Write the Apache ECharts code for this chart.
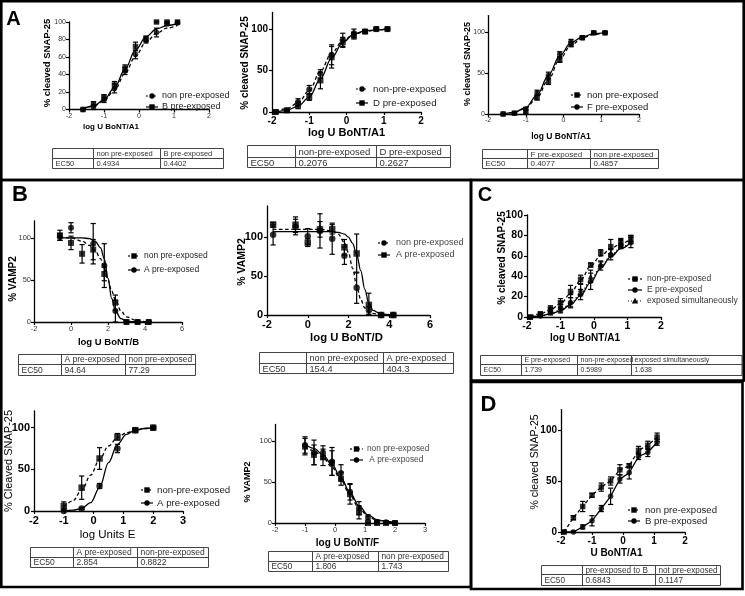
<!DOCTYPE html>
<html><head><meta charset="utf-8">
<script src="https://cdn.jsdelivr.net/npm/echarts@6/dist/echarts.min.js"></script>
<style>html,body{margin:0;padding:0;background:#fff}#c{width:745px;height:596px}</style>
</head><body><div id="c"></div>
<script>
// ================= DATA =================
const xTicksA = [-2, -1, 0, 1, 2];
const xTicksB = [-2, 0, 2, 4, 6];
const xTicksE = [-2, -1, 0, 1, 2, 3];
const yTicks20 = [0, 20, 40, 60, 80, 100];
const yTicks50 = [0, 50, 100];

// Panel A1
const a1X = [-1.6, -1.3, -1.0, -0.7, -0.4, -0.1, 0.2, 0.5, 0.8, 1.1];
const a1Non = [0, 3, 11, 24, 44, 63, 79, 88, 98, 99];
const a1NonErr = [1, 3, 3, 5, 4, 5, 3, 5, 2, 1];
const a1B = [0, 6, 14, 28, 47, 72, 81, 100, 100, 100];
const a1BErr = [1, 3, 3, 4, 4, 5, 3, 1, 1, 1];
const a1CurveX = [-1.6, -1.3, -1.0, -0.7, -0.4, -0.1, 0.2, 0.5, 0.8, 1.1];
const a1NonCurve = [1, 4, 10, 22, 41, 61, 77, 87, 93, 96];
const a1BCurve = [1, 4, 11, 25, 46, 68, 83, 92, 96, 98];
const a1Legend = ["non pre-exposed", "B pre-exposed"];
const a1Table = [["", "non pre-exposed", "B pre-exposed"], ["EC50", "0.4934", "0.4402"]];

// Panel A2
const a2X = [-1.9, -1.6, -1.3, -1.0, -0.7, -0.4, -0.1, 0.2, 0.5, 0.8, 1.1];
const a2Non = [0, 2, 12, 27, 46, 69, 87, 95, 97, 100, 100];
const a2NonErr = [0, 1, 4, 5, 5, 12, 8, 5, 2, 1, 1];
const a2D = [0, 2, 8, 18, 38, 66, 84, 92, 97, 100, 100];
const a2DErr = [0, 1, 4, 4, 10, 13, 6, 4, 2, 1, 1];
const a2CurveX = [-1.9, -1.6, -1.3, -1.0, -0.7, -0.4, -0.1, 0.2, 0.5, 0.8, 1.1];
const a2NonCurve = [1, 4, 11, 26, 49, 71, 86, 94, 97, 99, 100];
const a2DCurve = [0, 2, 7, 18, 40, 65, 84, 94, 98, 99, 100];
const a2Legend = ["non-pre-exposed", "D pre-exposed"];
const a2Table = [["", "non-pre-exposed", "D pre-exposed"], ["EC50", "0.2076", "0.2627"]];

// Panel A3
const a3X = [-1.6, -1.3, -1.0, -0.7, -0.4, -0.1, 0.2, 0.5, 0.8, 1.1];
const a3Non = [0, 1, 3, 20, 40, 66, 85, 93, 99, 99];
const a3NonErr = [0, 1, 2, 3, 4, 3, 3, 2, 1, 1];
const a3F = [0, 1, 6, 26, 47, 73, 88, 93, 99, 99];
const a3FErr = [0, 1, 2, 3, 4, 3, 3, 2, 1, 1];
const a3CurveX = [-1.6, -1.3, -1.0, -0.7, -0.4, -0.1, 0.2, 0.5, 0.8, 1.1];
const a3NonCurve = [0, 2, 7, 20, 42, 67, 84, 93, 97, 99];
const a3FCurve = [0, 2, 8, 23, 47, 71, 87, 94, 98, 99];
const a3Legend = ["non pre-exposed", "F pre-exposed"];
const a3Table = [["", "F pre-exposed", "non pre-exposed"], ["EC50", "0.4077", "0.4857"]];

// Panel B1 (BoNT/B)
const b1X = [-0.6, 0, 0.6, 1.2, 1.8, 2.4, 3.0, 3.6, 4.2];
const b1Non = [103, 94, 81, 86, 57, 23, 0, 0, 0];
const b1NonErr = [6, 8, 11, 12, 8, 9, 1, 1, 1];
const b1A = [101, 112, null, 93, 67, 13, 0, 0, 0];
const b1AErr = [4, 6, null, 24, 26, 13, 1, 1, 1];
const b1CurveX = [-0.6, 0, 0.6, 1.0, 1.3, 1.6, 1.8, 2.0, 2.2, 2.4, 2.7, 3.0, 3.6, 4.2];
const b1NonCurve = [101, 100, 96, 91, 85, 75, 64, 50, 37, 26, 13, 6, 1, 0];
const b1ACurve = [100, 100, 100, 99, 96, 88, 75, 52, 28, 13, 4, 1, 0, 0];
const b1Legend = ["non pre-exposed", "A pre-exposed"];
const b1Table = [["", "A pre-exposed", "non pre-exposed"], ["EC50", "94.64", "77.29"]];

// Panel B2 (BoNT/D)
const b2X = [-1.7, -0.6, 0, 0.6, 1.2, 1.8, 2.4, 3.0, 3.6, 4.2];
const b2Non = [103, 113, 101, 108, 98, 76, 35, 6, 0, 0];
const b2NonErr = [13, 10, 10, 22, 20, 11, 20, 5, 1, 1];
const b2A = [116, 116, 93, 110, 110, 87, 79, 13, 0, 0];
const b2AErr = [3, 10, 5, 10, 6, 10, 25, 15, 1, 1];
const b2CurveX = [-1.7, -0.6, 0, 0.6, 1.2, 1.5, 1.8, 2.0, 2.2, 2.4, 2.6, 2.8, 3.0, 3.2, 3.6, 4.2];
const b2NonCurve = [110, 110, 110, 110, 108, 104, 93, 80, 60, 38, 20, 9, 4, 2, 0, 0];
const b2ACurve = [107, 107, 107, 107, 107, 106, 104, 100, 92, 78, 57, 33, 15, 6, 1, 0];
const b2Legend = ["non pre-exposed", "A pre-exposed"];
const b2Table = [["", "non pre-exposed", "A pre-exposed"], ["EC50", "154.4", "404.3"]];

// Panel B3 (Units E)
const b3X = [-1.0, -0.4, 0.2, 0.8, 1.4, 2.0];
const b3Non = [6, 28, 63, 89, 97, 100];
const b3NonErr = [5, 14, 13, 4, 2, 1];
const b3A = [0, 3, 30, 75, 97, 100];
const b3AErr = [1, 1, 3, 5, 2, 1];
const b3CurveX = [-1.0, -0.7, -0.4, -0.1, 0.2, 0.5, 0.8, 1.1, 1.4, 1.7, 2.0];
const b3NonCurve = [5, 12, 25, 43, 62, 78, 88, 94, 97, 99, 100];
const b3ACurve = [0, 1, 3, 10, 28, 58, 80, 92, 97, 99, 100];
const b3Legend = ["non-pre-exposed", "A pre-exposed"];
const b3Table = [["", "A pre-exposed", "non-pre-exposed"], ["EC50", "2.854", "0.8822"]];

// Panel B4 (BoNT/F)
const b4X = [-1.0, -0.7, -0.4, -0.1, 0.2, 0.5, 0.8, 1.1, 1.4, 1.7, 2.0];
const b4Non = [93, 83, 80, 73, 54, 35, 13, 0, 0, 0, 0];
const b4NonErr = [10, 12, 10, 15, 8, 12, 8, 1, 1, 1, 1];
const b4A = [95, 86, 86, 75, 61, 38, 18, 7, 1, 1, 0];
const b4AErr = [10, 15, 8, 17, 10, 10, 8, 3, 1, 1, 1];
const b4CurveX = [-1.0, -0.7, -0.4, -0.1, 0.2, 0.5, 0.8, 1.1, 1.4, 1.7, 2.0];
const b4NonCurve = [93, 88, 80, 68, 52, 34, 18, 8, 3, 1, 0];
const b4ACurve = [96, 91, 83, 71, 55, 37, 21, 10, 4, 2, 1];
const b4Legend = ["non pre-exposed", " A pre-exposed"];
const b4Table = [["", "A pre-exposed", "non pre-exposed"], ["EC50", "1.806", "1.743"]];

// Panel C
const cX = [-1.9, -1.6, -1.3, -1.0, -0.7, -0.4, -0.1, 0.2, 0.5, 0.8, 1.1];
const cNon = [0, 3, 8, 14, 25, 37, 51, 63, 69, 72, 77];
const cNonErr = [1, 2, 3, 4, 6, 4, 2, 3, 7, 4, 3];
const cE = [0, 1, 5, 8, 14, 22, 35, 50, 61, 71, 73];
const cEErr = [1, 1, 3, 4, 5, 5, 8, 4, 5, 4, 5];
const cSim = [0, 2, 6, 10, 16, 27, 40, 52, 63, 73, 76];
const cSimErr = [1, 2, 3, 5, 6, 5, 6, 3, 4, 4, 4];
const cCurveX = [-1.9, -1.6, -1.3, -1.0, -0.7, -0.4, -0.1, 0.2, 0.5, 0.8, 1.1];
const cNonCurve = [1, 3, 7, 13, 23, 36, 50, 60, 67, 72, 76];
const cECurve = [0, 1, 3, 6, 12, 21, 34, 48, 59, 67, 73];
const cSimCurve = [0, 1, 3, 7, 13, 23, 36, 49, 60, 68, 74];
const cLegend = ["non-pre-exposed", "E pre-exposed", "exposed simultaneously"];
const cTable = [["", "E pre-exposed", "non-pre-exposed", "exposed simultaneously"], ["EC50", "1.739", "0.5989", "1.638"]];

// Panel D
const dX = [-1.9, -1.6, -1.3, -1.0, -0.7, -0.4, -0.1, 0.2, 0.5, 0.8, 1.1];
const dNon = [0, 14, 25, 36, 44, 50, 61, 65, 80, 85, 93];
const dNonErr = [1, 2, 5, 2, 4, 4, 5, 2, 4, 4, 4];
const dB = [0, 0, 5, 11, 23, 35, 52, 58, 74, 78, 88];
const dBErr = [1, 1, 2, 5, 3, 8, 4, 6, 3, 4, 3];
const dLegend = ["non pre-exposed", "B pre-exposed"];
const dTable = [["", "pre-exposed to B", "not pre-exposed"], ["EC50", "0.6843", "0.1147"]];

// ================= LAYOUT / STYLE =================
const FONT = 'Liberation Sans, Arial, Helvetica, sans-serif';
const DASH = [3.5, 2.5], SOLID = 'solid', DOT = [1.2, 2.2];

const panels = [
  {grid:[69,22,140,87.5], x:[-2,2,1,xTicksA], y:[0,100,20,yTicks20], lab:[7,'normal','#333',3]},
  {grid:[272,12.5,149,99.5], x:[-2,2,1,xTicksA], y:[0,120,50,yTicks50], lab:[10,'bold','#000',4]},
  {grid:[488,15.6,151,98.4], x:[-2,2,1,xTicksA], y:[0,120,50,yTicks50], lab:[7,'normal','#333',3]},
  {grid:[34,221,148,101], x:[-2,6,2,xTicksB], y:[0,120,50,yTicks50], lab:[7.5,'normal','#333',3]},
  {grid:[267,206,163,109], x:[-2,6,2,xTicksB], y:[0,140,50,yTicks50], lab:[11,'bold','#000',4]},
  {grid:[34,411,149,100], x:[-2,3,1,xTicksE], y:[0,120,50,yTicks50], lab:[11,'bold','#000',4]},
  {grid:[275,424.5,150,98.5], x:[-2,3,1,xTicksE], y:[0,120,50,yTicks50], lab:[7.5,'normal','#333',3]},
  {grid:[527,215,134,102], x:[-2,2,1,xTicksA], y:[0,100,20,yTicks20], lab:[10.5,'bold','#000',4]},
  {grid:[561,409.6,124,122.4], x:[-2,2,1,xTicksA], y:[0,120,50,yTicks50], lab:[10,'bold','#000',4]}
];

const grids = [], xAxes = [], yAxes = [], series = [], gfx = [];

panels.forEach((p, i) => {
  grids.push({left:p.grid[0], top:p.grid[1], width:p.grid[2], height:p.grid[3], containLabel:false, outerBoundsMode:'none'});
  const lab = {fontSize:p.lab[0], fontWeight:p.lab[1], color:p.lab[2], margin:p.lab[3], fontFamily:FONT};
  const axLine = {show:true, onZero:false, lineStyle:{color:'#000', width:1.3}};
  const axTick = (vals) => ({show:true, length:3, lineStyle:{color:'#000', width:1.2}, customValues:vals});
  xAxes.push({gridIndex:i, type:'value', min:p.x[0], max:p.x[1], interval:p.x[2],
    axisLine:axLine, axisTick:axTick(p.x[3]), axisLabel:Object.assign({customValues:p.x[3]}, lab),
    splitLine:{show:false}});
  yAxes.push({gridIndex:i, type:'value', min:p.y[0], max:p.y[1], interval:p.y[2],
    axisLine:axLine, axisTick:axTick(p.y[3]), axisLabel:Object.assign({customValues:p.y[3]}, lab),
    splitLine:{show:false}});
});

function pairs(xs, ys) { const out = []; xs.forEach((x, k) => { if (ys[k] != null) out.push([x, ys[k]]); }); return out; }

function addCurve(pi, xs, ys, dash, smooth) {
  series.push({type:'line', xAxisIndex:pi, yAxisIndex:pi, data:pairs(xs, ys), symbol:'none',
    smooth: smooth === false ? false : 0.35, smoothMonotone:'x', silent:true, clip:false, z:2,
    lineStyle:{color:'#000', width:1.3, type:dash}});
}
function addPoints(pi, xs, ys, errs, symbol, size) {
  series.push({type:'scatter', xAxisIndex:pi, yAxisIndex:pi, data:pairs(xs, ys), symbol:symbol,
    symbolSize:size, itemStyle:{color:'#000'}, silent:true, clip:false, z:4});
  const ed = [];
  xs.forEach((x, k) => { if (ys[k] != null && errs[k] != null) ed.push([x, ys[k], errs[k]]); });
  series.push({type:'custom', xAxisIndex:pi, yAxisIndex:pi, coordinateSystem:'cartesian2d', data:ed,
    encode:{x:0, y:1}, silent:true, clip:false, z:3,
    renderItem:(params, api) => {
      const x = api.value(0), y = api.value(1), e = api.value(2);
      const t = api.coord([x, y + e]), b = api.coord([x, Math.max(y - e, 0)]);
      const cap = 2.6, st = {stroke:'#000', lineWidth:1.2};
      return {type:'group', children:[
        {type:'line', shape:{x1:t[0], y1:t[1], x2:b[0], y2:b[1]}, style:st},
        {type:'line', shape:{x1:t[0]-cap, y1:t[1], x2:t[0]+cap, y2:t[1]}, style:st},
        {type:'line', shape:{x1:b[0]-cap, y1:b[1], x2:b[0]+cap, y2:b[1]}, style:st}
      ]};
    }});
}

// A1
addCurve(0, a1CurveX, a1NonCurve, DASH); addCurve(0, a1CurveX, a1BCurve, SOLID);
addPoints(0, a1X, a1Non, a1NonErr, 'circle', 5.5); addPoints(0, a1X, a1B, a1BErr, 'rect', 5.5);
// A2
addCurve(1, a2CurveX, a2NonCurve, DASH); addCurve(1, a2CurveX, a2DCurve, SOLID);
addPoints(1, a2X, a2Non, a2NonErr, 'circle', 6); addPoints(1, a2X, a2D, a2DErr, 'rect', 6);
// A3
addCurve(2, a3CurveX, a3NonCurve, DASH); addCurve(2, a3CurveX, a3FCurve, SOLID);
addPoints(2, a3X, a3Non, a3NonErr, 'rect', 5.5); addPoints(2, a3X, a3F, a3FErr, 'circle', 5.5);
// B1
addCurve(3, b1CurveX, b1NonCurve, DASH); addCurve(3, b1CurveX, b1ACurve, SOLID);
addPoints(3, b1X, b1Non, b1NonErr, 'rect', 6); addPoints(3, b1X, b1A, b1AErr, 'circle', 6);
// B2
addCurve(4, b2CurveX, b2NonCurve, DASH); addCurve(4, b2CurveX, b2ACurve, SOLID);
addPoints(4, b2X, b2Non, b2NonErr, 'circle', 6.5); addPoints(4, b2X, b2A, b2AErr, 'rect', 6.5);
// B3
addCurve(5, b3CurveX, b3NonCurve, DASH); addCurve(5, b3CurveX, b3ACurve, SOLID);
addPoints(5, b3X, b3Non, b3NonErr, 'rect', 6.5); addPoints(5, b3X, b3A, b3AErr, 'circle', 6.5);
// B4
addCurve(6, b4CurveX, b4NonCurve, DASH); addCurve(6, b4CurveX, b4ACurve, SOLID);
addPoints(6, b4X, b4Non, b4NonErr, 'rect', 6); addPoints(6, b4X, b4A, b4AErr, 'circle', 6);
// C
addCurve(7, cCurveX, cNonCurve, DASH); addCurve(7, cCurveX, cECurve, SOLID); addCurve(7, cCurveX, cSimCurve, DOT);
addPoints(7, cX, cNon, cNonErr, 'rect', 5.5); addPoints(7, cX, cE, cEErr, 'circle', 5.5); addPoints(7, cX, cSim, cSimErr, 'triangle', 5.5);
// D (lines connect points)
addCurve(8, dX, dNon, DASH, false); addCurve(8, dX, dB, SOLID, false);
addPoints(8, dX, dNon, dNonErr, 'rect', 5.5); addPoints(8, dX, dB, dBErr, 'circle', 5.5);

// ---------- graphics ----------
function txt(x, y, text, size, weight, opts) {
  opts = opts || {};
  gfx.push({type:'text', x:x, y:y, rotation:opts.rot || 0, z:10, silent:true,
    style:{text:text, fontSize:size, fontWeight:weight, fontFamily:FONT, fill:opts.color || '#000',
      align:opts.align || 'center', verticalAlign:'middle'}});
}
function ln(x1, y1, x2, y2, w, color, dash) {
  gfx.push({type:'line', silent:true, z:10, shape:{x1:x1, y1:y1, x2:x2, y2:y2},
    style:{stroke:color || '#000', lineWidth:w, lineDash:dash || null}});
}
function marker(kind, cx, cy) {
  const r = 2.7;
  if (kind === 'circle') gfx.push({type:'circle', z:11, silent:true, shape:{cx:cx, cy:cy, r:r}, style:{fill:'#000'}});
  else if (kind === 'rect') gfx.push({type:'rect', z:11, silent:true, shape:{x:cx-r, y:cy-r, width:2*r, height:2*r}, style:{fill:'#000'}});
  else gfx.push({type:'polygon', z:11, silent:true, shape:{points:[[cx, cy-3.2],[cx-3.2, cy+2.4],[cx+3.2, cy+2.4]]}, style:{fill:'#000'}});
}
function legend(items, x1, x2, tx, ys, size, color) {
  items.forEach((it, k) => {
    ln(x1, ys[k], x2, ys[k], 1.2, '#000', it.dash);
    marker(it.m, (x1 + x2) / 2, ys[k]);
    txt(tx, ys[k], it.t, size, 'normal', {align:'left', color:color || '#222'});
  });
}
function table(rows, cols, ys, size) {
  const L = cols[0], R = cols[cols.length - 1], T = ys[0], B = ys[ys.length - 1];
  gfx.push({type:'rect', silent:true, z:10, shape:{x:L, y:T, width:R-L, height:B-T}, style:{fill:'none', stroke:'#444', lineWidth:1}});
  ys.slice(1, -1).forEach(y => ln(L, y, R, y, 1, '#444'));
  cols.slice(1, -1).forEach(x => ln(x, T, x, B, 1, '#444'));
  rows.forEach((row, r) => row.forEach((c, k) => {
    if (c) txt(cols[k] + 3, (ys[r] + ys[r + 1]) / 2 + 0.5, c, size, 'normal', {align:'left', color:'#333'});
  }));
}
const R90 = Math.PI / 2;

// Frames
const FW = 2.6;
gfx.push({type:'rect', silent:true, z:12, shape:{x:1.3, y:1.3, width:742.4, height:178.7}, style:{fill:'none', stroke:'#000', lineWidth:FW}});
gfx.push({type:'rect', silent:true, z:12, shape:{x:1.3, y:180, width:469.7, height:407}, style:{fill:'none', stroke:'#000', lineWidth:FW}});
gfx.push({type:'rect', silent:true, z:12, shape:{x:471, y:180, width:272.7, height:200.5}, style:{fill:'none', stroke:'#000', lineWidth:FW}});
gfx.push({type:'rect', silent:true, z:12, shape:{x:471, y:382, width:271.5, height:207}, style:{fill:'none', stroke:'#000', lineWidth:FW}});

// Panel letters
txt(13.5, 19, 'A', 20, 'bold');
txt(20, 195, 'B', 22, 'bold');
txt(485, 195, 'C', 20, 'bold');
txt(488.5, 405, 'D', 22, 'bold');

// Axis titles
txt(111, 127, 'log U BoNT/A1', 8, 'bold');
txt(47, 63, '% cleaved SNAP-25', 9.5, 'bold', {rot:R90});
txt(346.5, 133, 'log U BoNT/A1', 11, 'bold');
txt(245, 63, '% cleaved SNAP-25', 10, 'bold', {rot:R90});
txt(561, 137, 'log U BoNT/A1', 8.5, 'bold');
txt(468, 64, '% cleaved SNAP-25', 9, 'bold', {rot:R90});
txt(108.5, 342, 'log U BoNT/B', 9.5, 'bold');
txt(13, 279, '% VAMP2', 10, 'bold', {rot:R90});
txt(346.5, 338, 'log U BoNT/D', 11.3, 'bold');
txt(242, 262, '% VAMP2', 10.5, 'bold', {rot:R90});
txt(107.5, 535, 'log Units E', 11.5, 'normal');
txt(9, 461, '% Cleaved SNAP-25', 11, 'normal', {rot:R90});
txt(347.5, 543, 'log U BoNT/F', 10, 'bold');
txt(248, 482, '% VAMP2', 9, 'bold', {rot:R90});
txt(585, 338, 'log U BoNT/A1', 10, 'bold');
txt(502, 258, '% cleaved SNAP-25', 10, 'bold', {rot:R90});
txt(616.5, 553, 'U BoNT/A1', 10, 'bold');
txt(535, 462, '% cleaved SNAP-25', 10.5, 'normal', {rot:R90});

// Legends
legend([{t:a1Legend[0], dash:[2,2], m:'circle'}, {t:a1Legend[1], dash:null, m:'rect'}], 146, 158, 162, [96, 107], 9);
legend([{t:a2Legend[0], dash:[2,2], m:'circle'}, {t:a2Legend[1], dash:null, m:'rect'}], 356, 368, 373, [89, 103], 9.7);
legend([{t:a3Legend[0], dash:[2,2], m:'rect'}, {t:a3Legend[1], dash:null, m:'circle'}], 571, 583, 587, [95, 107], 9.5);
legend([{t:b1Legend[0], dash:[2,2], m:'rect'}, {t:b1Legend[1], dash:null, m:'circle'}], 128, 140, 144, [256, 270], 8.5);
legend([{t:b2Legend[0], dash:[2,2], m:'circle'}, {t:b2Legend[1], dash:null, m:'rect'}], 378, 390, 396, [243, 255], 9, '#444');
legend([{t:b3Legend[0], dash:[2,2], m:'rect'}, {t:b3Legend[1], dash:null, m:'circle'}], 141, 153, 157, [490, 503], 9.7);
legend([{t:b4Legend[0], dash:[2,2], m:'rect'}, {t:b4Legend[1], dash:null, m:'circle'}], 350, 363, 367, [449, 460], 8.3, '#444');
legend([{t:cLegend[0], dash:[2,2], m:'rect'}, {t:cLegend[1], dash:null, m:'circle'}, {t:cLegend[2], dash:[1,2], m:'triangle'}], 628, 642, 647, [279, 290, 301], 8.5, '#333');
legend([{t:dLegend[0], dash:[2,2], m:'rect'}, {t:dLegend[1], dash:null, m:'circle'}], 628, 640, 645, [510, 521], 9.6);

// Tables
table(a1Table, [52.5, 93.5, 160.5, 223.5], [148.5, 158.5, 168.5], 7.5);
table(a2Table, [247.5, 295.5, 376.5, 450.5], [145.5, 157.5, 167.5], 9.5);
table(a3Table, [482.5, 527.5, 590.5, 658.5], [149.5, 158.5, 168.5], 8);
table(b1Table, [18.5, 61.5, 125.5, 195.5], [354.5, 364.5, 375.5], 8.5);
table(b2Table, [259.5, 306.5, 383.5, 453.5], [352.5, 363.5, 373.5], 9.2);
table(b3Table, [30.5, 73.5, 137.5, 208.5], [547.5, 557.5, 567.5], 8.5);
table(b4Table, [268.5, 312.5, 378.5, 448.5], [551.5, 561.5, 571.5], 8.3);
table(cTable, [480.5, 521.5, 577.5, 631.5, 742], [355.5, 364.5, 375.5], 7);
table(dTable, [541.5, 582.5, 655.5, 720.5], [565.5, 574.5, 585.5], 8.2);

const chart = echarts.init(document.getElementById('c'), null, {renderer:'canvas'});
chart.setOption({
  animation:false,
  backgroundColor:'#fff',
  textStyle:{fontFamily:FONT},
  grid:grids, xAxis:xAxes, yAxis:yAxes, series:series,
  graphic:{elements:gfx}
});
</script></body></html>
